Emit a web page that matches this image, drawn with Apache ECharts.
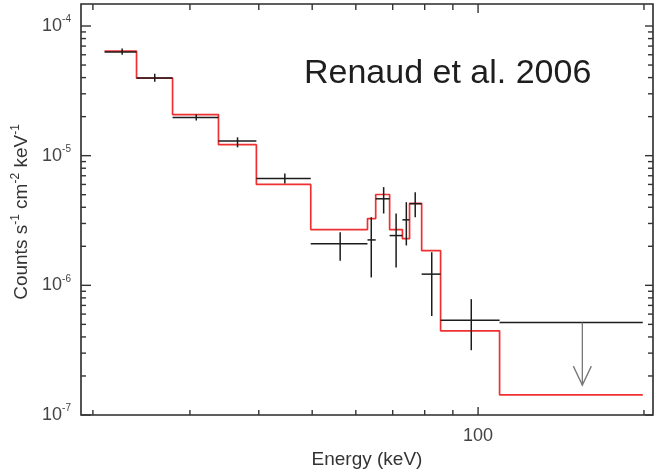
<!DOCTYPE html>
<html>
<head>
<meta charset="utf-8">
<script src="https://cdn.jsdelivr.net/npm/echarts/dist/echarts.min.js"></script>
<style>html,body{margin:0;padding:0;background:#fff}#c{width:659px;height:471px}</style>
</head>
<body>
<div id="c"></div>
<script>
// ---- data ----
// measured spectrum points: bin centre, flux, bin edges, error-bar ends
const binCenter = [22.6, 25.9, 30.8, 36.6, 44.6, 56.2, 64.0, 67.4, 71.0, 74.1, 76.9, 82.4, 97.2];
const binLo     = [21.0, 24.0, 27.9, 33.8, 39.6, 49.7, 63.0, 65.2, 69.1, 72.9, 75.1, 79.0, 85.5];
const binHi     = [24.0, 27.9, 33.8, 39.6, 49.7, 63.0, 65.2, 69.1, 72.9, 75.1, 79.0, 85.5, 109.4];
const fluxVal   = [6.3e-5, 3.98e-5, 1.97e-5, 1.30e-5, 6.68e-6, 2.09e-6, 2.24e-6, 4.65e-6, 2.42e-6, 3.2e-6, 4.26e-6, 1.22e-6, 5.39e-7];
const fluxErrLo = [6.0e-5, 3.71e-5, 1.865e-5, 1.16e-5, 6.1e-6, 1.55e-6, 1.15e-6, 3.58e-6, 1.375e-6, 2.03e-6, 3.35e-6, 5.8e-7, 3.16e-7];
const fluxErrHi = [6.7e-5, 4.28e-5, 2.075e-5, 1.385e-5, 7.3e-6, 2.57e-6, 3.35e-6, 5.72e-6, 3.58e-6, 4.38e-6, 5.23e-6, 1.8e-6, 7.83e-7];
// upper limit bin
const ulBin   = [109.4, 199.0];
const ulCenter = 154.6;
const ulValue  = 5.17e-7;
const ulArrowTip = 1.70e-7;
// model (red step line): bin edges and values
const modelEdges = [21.0, 24.0, 27.9, 33.8, 39.6, 49.7, 63.0, 65.2, 69.1, 72.9, 75.1, 79.0, 85.5, 109.4, 199.0];
const modelVals  = [6.4e-5, 3.96e-5, 2.075e-5, 1.216e-5, 6.0e-6, 2.69e-6, 3.27e-6, 5.02e-6, 2.69e-6, 2.29e-6, 4.28e-6, 1.85e-6, 4.46e-7, 1.43e-7];
// ticks
const yMajorTicks = [1e-7, 1e-6, 1e-5, 1e-4];
const yMinorTicks = [2e-7,3e-7,4e-7,5e-7,6e-7,7e-7,8e-7,9e-7,
                     2e-6,3e-6,4e-6,5e-6,6e-6,7e-6,8e-6,9e-6,
                     2e-5,3e-5,4e-5,5e-5,6e-5,7e-5,8e-5,9e-5];
const xMajorTicks = [100];
const xMinorTicks = [20, 30, 40, 50, 60, 70, 80, 90, 200];
const xTickLabels = ['100'];
const xRange = [19.03, 207.7];
const yRange = [1e-7, 1.478e-4];
const annotation = 'Renaud et al. 2006';

// ---- chart ----
const FONT = 'Liberation Sans, Arial, Helvetica, sans-serif';
const chart = echarts.init(document.getElementById('c'), null, {renderer: 'canvas'});

const modelData = [];
modelVals.forEach((v, i) => { modelData.push([modelEdges[i], v]); modelData.push([modelEdges[i + 1], v]); });
const pointData = binCenter.map((x, i) => [x, fluxVal[i], binLo[i], binHi[i], fluxErrLo[i], fluxErrHi[i]]);
const tickData = []
  .concat(yMinorTicks.map(v => [100, v, 0]))
  .concat(yMajorTicks.map(v => [100, v, 1]))
  .concat(xMinorTicks.map(v => [v, 1e-6, 2]))
  .concat(xMajorTicks.map(v => [v, 1e-6, 3]));

const option = {
  animation: false,
  backgroundColor: '#fff',
  grid: {left: 81, right: 6, top: 4, bottom: 56, containLabel: false, outerBoundsMode: 'none',
         show: true, borderColor: '#2a2a2a', borderWidth: 1.6, backgroundColor: 'transparent'},
  xAxis: {
    type: 'log', logBase: 10, min: xRange[0], max: xRange[1],
    axisLine: {show: false}, axisTick: {show: false}, splitLine: {show: false},
    axisLabel: {
      margin: 12, color: '#444', fontSize: 18, fontFamily: FONT, showMinLabel: true, showMaxLabel: true,
      formatter: v => { const i = xMajorTicks.findIndex(t => Math.abs(v - t) / t < 1e-6); return i >= 0 ? xTickLabels[i] : ''; }
    },
    name: 'Energy (keV)', nameLocation: 'middle', nameGap: 34,
    nameTextStyle: {color: '#333', fontSize: 19, fontFamily: FONT}
  },
  yAxis: {
    type: 'log', logBase: 10, min: yRange[0], max: yRange[1],
    axisLine: {show: false}, axisTick: {show: false}, splitLine: {show: false},
    axisLabel: {
      margin: 10, showMinLabel: true, showMaxLabel: true,
      formatter: v => { const e = Math.log10(v); const r = Math.round(e); if (Math.abs(e - r) > 1e-3) return ''; return '{b|10}{s|' + r + '}'; },
      rich: {
        b: {color: '#444', fontSize: 18, fontFamily: FONT},
        s: {color: '#444', fontSize: 10, fontFamily: FONT, padding: [0, 0, 13, 0]}
      }
    }
  },
  graphic: [
    {type: 'text', x: 22, y: 212, rotation: Math.PI / 2, z: 10,
     style: {text: 'Counts s{s|-1} cm{s|-2} keV{s|-1}', fontSize: 19, fontFamily: FONT, fill: '#333', align: 'center', verticalAlign: 'middle',
             rich: {s: {fontSize: 12, fontFamily: FONT, fill: '#333', color: '#333', padding: [0, 0, 13, 0]}}}},
    {type: 'text', x: 304, y: 74, z: 10,
     style: {text: annotation, fontSize: 34, fontFamily: FONT, fill: '#1e1e1e', align: 'left', verticalAlign: 'middle'}}
  ],
  series: [
    {
      type: 'custom', name: 'ticks', z: 5, silent: true, clip: false,
      encode: {x: 0, y: 1},
      data: tickData,
      renderItem: (params, api) => {
        const cs = params.coordSys;
        const kind = api.value(2);
        const st = {stroke: '#333', lineWidth: 1.4};
        if (kind < 2) {
          const p = api.coord([100, api.value(1)]);
          const lenL = kind === 1 ? 10 : 5, lenR = kind === 1 ? 8 : 5;
          return {type: 'group', children: [
            {type: 'line', shape: {x1: cs.x, y1: p[1], x2: cs.x + lenL, y2: p[1]}, style: st},
            {type: 'line', shape: {x1: cs.x + cs.width - lenR, y1: p[1], x2: cs.x + cs.width, y2: p[1]}, style: st}
          ]};
        }
        const p = api.coord([api.value(0), 1e-6]);
        const lenB = kind === 3 ? 8 : 5, lenT = kind === 3 ? 9 : 6;
        return {type: 'group', children: [
          {type: 'line', shape: {x1: p[0], y1: cs.y + cs.height, x2: p[0], y2: cs.y + cs.height - lenB}, style: st},
          {type: 'line', shape: {x1: p[0], y1: cs.y, x2: p[0], y2: cs.y + lenT}, style: st}
        ]};
      }
    },
    {
      type: 'line', name: 'model', z: 2, data: modelData, showSymbol: false, symbol: 'none',
      lineStyle: {color: '#ee3030', width: 1.7}, silent: true
    },
    {
      type: 'custom', name: 'data', z: 3, silent: true,
      encode: {x: [0, 2, 3], y: [1, 4, 5]},
      data: pointData,
      renderItem: (params, api) => {
        const c = api.coord([api.value(0), api.value(1)]);
        const l = api.coord([api.value(2), api.value(1)]);
        const r = api.coord([api.value(3), api.value(1)]);
        const lo = api.coord([api.value(0), api.value(4)]);
        const hi = api.coord([api.value(0), api.value(5)]);
        const st = {stroke: '#1c1c1c', lineWidth: 1.5};
        return {type: 'group', children: [
          {type: 'line', shape: {x1: l[0], y1: c[1], x2: r[0], y2: c[1]}, style: st},
          {type: 'line', shape: {x1: c[0], y1: hi[1], x2: c[0], y2: lo[1]}, style: st}
        ]};
      }
    },
    {
      type: 'custom', name: 'upper limit', z: 3, silent: true,
      encode: {x: [0, 2, 3], y: [1, 4]},
      data: [[ulCenter, ulValue, ulBin[0], ulBin[1], ulArrowTip]],
      renderItem: (params, api) => {
        const l = api.coord([api.value(2), api.value(1)]);
        const r = api.coord([api.value(3), api.value(1)]);
        const top = api.coord([api.value(0), api.value(1)]);
        const tip = api.coord([api.value(0), api.value(4)]);
        return {type: 'group', children: [
          {type: 'line', shape: {x1: l[0], y1: l[1], x2: r[0], y2: r[1]}, style: {stroke: '#1c1c1c', lineWidth: 1.5}},
          {type: 'line', shape: {x1: top[0], y1: top[1], x2: tip[0], y2: tip[1]}, style: {stroke: '#777', lineWidth: 1.3}},
          {type: 'polyline', shape: {points: [[tip[0] - 9, tip[1] - 19], [tip[0], tip[1]], [tip[0] + 9, tip[1] - 19]]}, style: {stroke: '#777', lineWidth: 1.3, fill: null}}
        ]};
      }
    }
  ]
};
chart.setOption(option);
</script>
</body>
</html>
